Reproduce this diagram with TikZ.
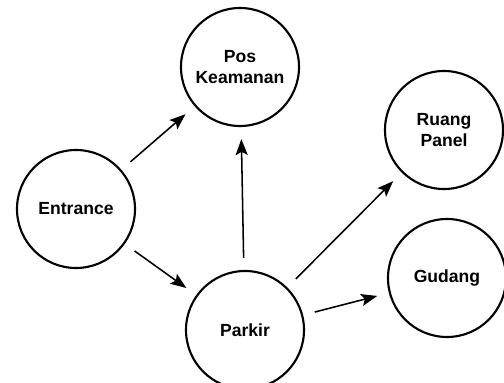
\documentclass[tikz,border=0pt]{standalone}
\usepackage{fontspec}
\setmainfont{Liberation Sans}
\usetikzlibrary{arrows.meta}
\tikzset{
	room/.style={circle, draw, line width=1.5pt, minimum size=2.95cm, inner sep=0pt, align=center, font=\fontsize{12.5}{15}\selectfont\bfseries},
	flow/.style={line width=1.1pt, -{Stealth[length=4mm,width=3mm,inset=0.8mm]}, shorten >=3mm, shorten <=3mm}
}
\begin{document}
\begin{tikzpicture}
	\useasboundingbox (0,0) rectangle (12.6,9.575);
	\node[room] (entrance) at (1.9,4.35) {Entrance};
	\node[room] (pos) at (6.0,7.9) {Pos\\Keamanan};
	\node[room] (panel) at (11.1,6.325) {Ruang\\Panel};
	\node[room] (gudang) at (11.175,2.625) {Gudang};
	\node[room] (parkir) at (6.125,1.325) {Parkir};
	\draw[flow] (entrance) -- (pos);
	\draw[flow] (entrance) -- (parkir);
	\draw[flow] (parkir) -- (pos);
	\draw[flow] (parkir) -- (panel);
	\draw[flow] (parkir) -- (gudang);
\end{tikzpicture}
\end{document}
